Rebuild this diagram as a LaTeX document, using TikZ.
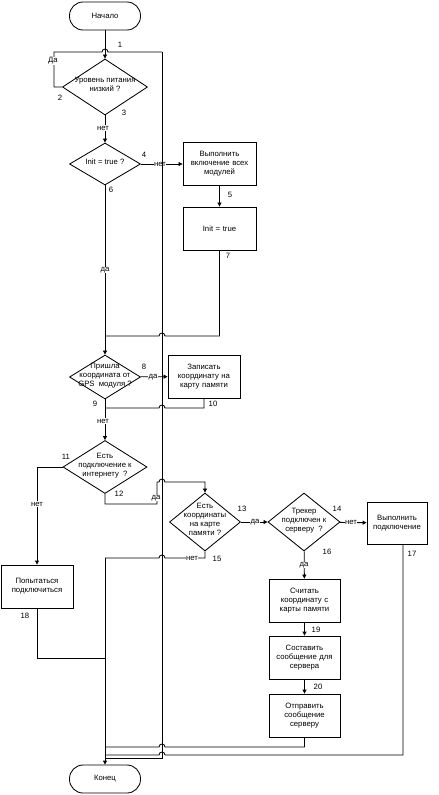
\documentclass[tikz,border=0pt]{standalone}
\usepackage{fontspec}
\setmainfont{Liberation Sans}
\usetikzlibrary{shapes.geometric,arrows.meta}
\newcommand{\dtext}[1]{\makebox[0pt]{\smash{\begin{tabular}{@{}c@{}}#1\end{tabular}}}}

\begin{document}
\begin{tikzpicture}[x=0.025cm,y=-0.025cm,line width=0.6pt,
  font=\fontsize{5.5}{6.4}\selectfont,
  term/.style={draw,rounded corners=3.4mm,minimum width=1.775cm,minimum height=0.7cm},
  proc/.style={draw,align=center,text width=1.6cm,minimum width=1.825cm,minimum height=1.075cm,inner sep=1pt},
  dec/.style={draw,diamond,inner sep=0pt},
  arr/.style={-{Triangle[length=1mm,width=1mm]}},
  lab/.style={fill=white,inner sep=0.4pt},
  num/.style={inner sep=0pt}]
\useasboundingbox (0,0) rectangle (439,795);

        %Blocos
    \node[term] (start) at (105,16) {Начало};
    \node[dec,minimum width=2.125cm,minimum height=1.4cm] (low) at (105,87) {\dtext{Уровень питания\\низкий ?}};
    \node[dec,minimum width=1.775cm,minimum height=1.05cm] (init) at (105,164) {\dtext{Init = true ?}};
    \node[proc] (allon) at (219.5,164) {Выполнить\\включение всех\\модулей};
    \node[proc] (initset) at (219.5,228.5) {Init = true};
    \node[dec,minimum width=1.775cm,minimum height=1.1cm] (gps) at (105,377) {\dtext{Пришла\\координата от\\GPS \ модуля ?}};
    \node[proc,minimum width=1.8cm] (rec) at (204,376.5) {Записать\\координату на\\карту памяти};
    \node[dec,minimum width=2.1cm,minimum height=1.325cm] (inet) at (105,467) {\dtext{Есть\\подключение к\\интернету \ ?}};
    \node[proc,minimum width=1.8cm] (try) at (37,586.5) {Попытаться\\подключиться};
    \node[dec,minimum width=1.775cm,minimum height=1.45cm] (has) at (205,522) {\dtext{Есть\\координаты\\на карте\\памяти ?}};
    \node[dec,minimum width=1.8cm,minimum height=1.45cm] (trk) at (304,522) {\dtext{Трекер\\подключен к\\серверу \ ?}};
    \node[proc,minimum width=1.5cm,minimum height=1.05cm,text width=1.4cm] (conn) at (397,523) {Выполнить\\подключение};
    \node[proc,minimum width=1.775cm] (read) at (304.5,600.5) {Считать\\координату с\\карты памяти};
    \node[proc,minimum width=1.775cm] (msg) at (304.5,657.5) {Составить\\сообщение для\\сервера};
    \node[proc,minimum width=1.775cm] (send) at (304.5,715.5) {Отправить\\сообщение\\серверу};
    \node[term] (fin) at (105,779) {Конец};

    \coordinate (top) at (105,52);
    \coordinate (bot) at (105,758);

        %Ligacoes
    \draw[arr] (start) -- (low);
    \draw (low.west) -- ++(-8,0) |- (102,52) arc (180:360:3) -- (162,52); %laco Da
    \draw[arr] (low) -- (init);
    \draw[arr] (init) -- (allon);
    \draw[arr] (allon) -- (initset);
    \draw (initset.south) -- (219.5,336) -- (165,336) arc (360:180:3) -- (105,336);
    \draw[arr] (init) -- (gps);
    \draw[arr] (gps) -- (rec);
    \draw (rec.south) -- (204,408) -- (165,408) arc (360:180:3) -- (105,408);
    \draw[arr] (gps) -- (inet);
    \draw[arr] (inet.west) -| (try);
    \draw (try.south) |- (105,658);
    \draw[arr] (inet.south) -- (105,504) -- (157,504) -- (157,482) -- (159,482) arc (180:360:3) -| (has.north);
    \draw[arr] (has) -- (trk);
    \draw[arr] (trk) -- (conn);
    \draw (has.south) -- (205,558) -- (165,558) arc (360:180:3) -- (105,558);
    \draw[arr] (105,558) -- (fin);
    \draw[arr] (trk) -- (read);
    \draw[arr] (read) -- (msg);
    \draw[arr] (msg) -- (send);
    \draw (send.south) -- (304.5,747) -- (165,747) arc (360:180:3) -- (105,747);
    \draw (conn.south -| 403,0) -- (403,755) -- (165,755) arc (360:180:3) -- (105,755);

        %Rotulos
    \node[lab] (l1) at (53,61) {Да};
    \node[lab] (l2) at (103,128) {нет};
    \node[lab] (l3) at (160,164) {нет};
    \node[lab] (l4) at (105,270) {да};
    \node[lab] (l5) at (153,377) {да};
    \node[lab] (l6) at (103,421) {нет};
    \node[lab] (l7) at (37,504) {нет};
    \node[lab] (l8) at (156,498) {да};
    \node[lab] (l9) at (255,522) {да};
    \node[lab] (l10) at (351,522) {нет};
    \node[lab] (l11) at (192,558) {нет};
    \node[lab] (l12) at (304,565) {да};

    \foreach \t/\x/\y in {1/120/45, 2/60/98, 3/124/113, 4/144/155, 5/230/195, 6/111/190,
        7/228/256, 8/144/367, 9/95/404, 10/213/404, 11/66/457, 12/119/494, 13/242/509,
        14/337/509, 15/217/559, 16/327/552, 17/412/554, 18/25/616, 19/316/630, 20/318/687}
      \node[num] (n\t) at (\x,\y) {\t};

        %Retorno
    \draw (162,52) -- (162,758) -- (bot);

\end{tikzpicture}
\end{document}
